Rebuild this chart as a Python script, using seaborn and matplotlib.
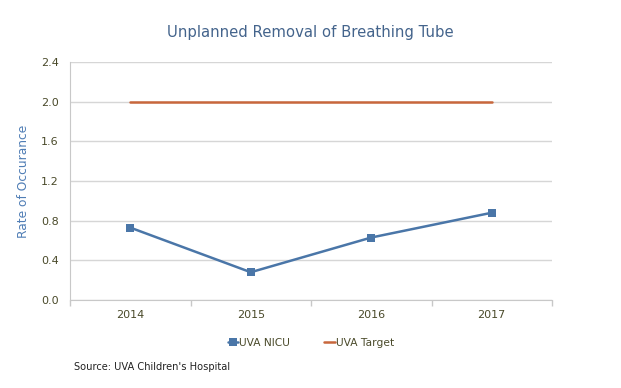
import pandas as pd
import matplotlib.pyplot as plt
import seaborn as sns

years = ['2014', '2015', '2016', '2017']
nicu = [0.73, 0.28, 0.63, 0.88]
target = [2.0, 2.0, 2.0, 2.0]

df = pd.DataFrame({'pos': range(len(years)), 'UVA NICU': nicu, 'UVA Target': target})

sns.set_style('white')
plt.rcParams['font.family'] = ['DejaVu Sans']

fig = plt.figure(figsize=(6.21, 3.88), dpi=100)
ax = fig.add_axes([70 / 621, 1 - 300 / 388, 482 / 621, 238 / 388])

blue = '#4a76a8'
orange = '#c8673c'
sns.lineplot(data=df, x='pos', y='UVA NICU', ax=ax, color=blue, lw=1.8,
             marker='s', markersize=6, markeredgewidth=0, label='UVA NICU')
sns.lineplot(data=df, x='pos', y='UVA Target', ax=ax, color=orange, lw=1.8,
             label='UVA Target')

ax.set_xlim(-0.5, 3.5)
ax.set_ylim(0, 2.4)
ax.set_yticks([0, 0.4, 0.8, 1.2, 1.6, 2.0, 2.4])
ax.set_yticklabels(['0.0', '0.4', '0.8', '1.2', '1.6', '2.0', '2.4'])
ax.set_xticks(range(len(years)))
ax.set_xticklabels(years)
ax.set_xticks([-0.5, 0.5, 1.5, 2.5, 3.5], minor=True)
ax.tick_params(axis='x', which='both', bottom=True)
ax.tick_params(axis='x', which='major', length=0, pad=7, labelsize=8, colors='#4a4a2a')
ax.tick_params(axis='x', which='minor', length=4, color='#c8c8c8', width=1)
ax.tick_params(axis='y', length=0, pad=8, labelsize=8, colors='#4a4a2a')
ax.grid(axis='y', color='#d6d6d6', lw=1)
ax.set_axisbelow(True)
for s in ['top', 'right']:
    ax.spines[s].set_visible(False)
ax.spines['left'].set_color('#c8c8c8')
ax.spines['bottom'].set_color('#c8c8c8')
ax.set_xlabel('')
ax.set_ylabel('Rate of Occurance', fontsize=8.8, color='#4f7db5', labelpad=8)

fig.text(0.5, 1 - 32 / 388, 'Unplanned Removal of Breathing Tube', ha='center', va='center',
         fontsize=10.7, color='#44648c')
ax.legend(loc='center', bbox_to_anchor=(0.5, -0.18), ncol=2, frameon=False,
          fontsize=7.7, handlelength=1.0, handletextpad=0.1, columnspacing=3.2,
          labelcolor='#4a4a2a')
fig.text(74 / 621, 1 - 367 / 388, "Source: UVA Children's Hospital", ha='left', va='center',
         fontsize=7.1, color='#222222')

fig.savefig('out.png', dpi=100)
